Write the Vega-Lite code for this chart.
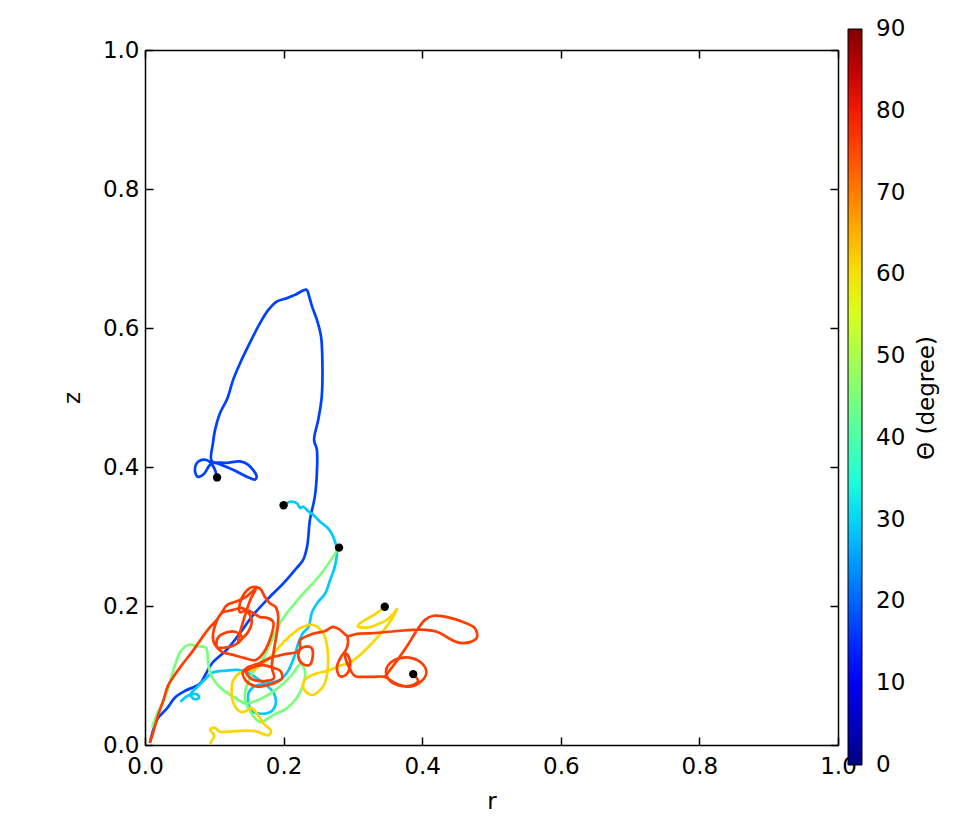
{
  "$schema": "https://vega.github.io/schema/vega-lite/v6.json",
  "width": 693,
  "height": 695,
  "autosize": {"type": "none"},
  "padding": {"left": 145, "top": 50, "right": 119, "bottom": 81},
  "background": "white",
  "config": {
    "view": {"stroke": null},
    "font": "DejaVu Sans",
    "axis": {
      "grid": false,
      "labelFlush": false,
      "domainColor": "black",
      "domainWidth": 1.5,
      "tickColor": "black",
      "tickWidth": 1.5,
      "tickSize": -8,
      "labelFont": "DejaVu Sans",
      "labelFontSize": 23,
      "labelColor": "black",
      "titleFont": "DejaVu Sans",
      "titleFontSize": 23,
      "titleFontWeight": "normal",
      "titleColor": "black"
    }
  },
  "datasets": {
    "traj": [
      {"s":"a","t":17,"r":0.104,"z":0.385},{"s":"a","t":17,"r":0.099,"z":0.400},{"s":"a","t":17,"r":0.089,"z":0.410},{"s":"a","t":17,"r":0.077,"z":0.408},{"s":"a","t":17,"r":0.072,"z":0.396},{"s":"a","t":17,"r":0.076,"z":0.386},{"s":"a","t":17,"r":0.085,"z":0.390},{"s":"a","t":17,"r":0.096,"z":0.405},{"s":"a","t":17,"r":0.118,"z":0.406},{"s":"a","t":17,"r":0.137,"z":0.408},{"s":"a","t":17,"r":0.149,"z":0.403},{"s":"a","t":17,"r":0.161,"z":0.387},{"s":"a","t":17,"r":0.159,"z":0.382},{"s":"a","t":17,"r":0.147,"z":0.386},{"s":"a","t":17,"r":0.127,"z":0.396},{"s":"a","t":17,"r":0.108,"z":0.404},{"s":"a","t":17,"r":0.096,"z":0.409},{"s":"a","t":17,"r":0.098,"z":0.434},{"s":"a","t":17,"r":0.101,"z":0.453},{"s":"a","t":17,"r":0.108,"z":0.477},{"s":"a","t":17,"r":0.119,"z":0.499},{"s":"a","t":17,"r":0.127,"z":0.525},{"s":"a","t":17,"r":0.137,"z":0.549},{"s":"a","t":17,"r":0.152,"z":0.580},{"s":"a","t":17,"r":0.166,"z":0.607},{"s":"a","t":17,"r":0.178,"z":0.626},{"s":"a","t":17,"r":0.190,"z":0.638},{"s":"a","t":17,"r":0.205,"z":0.643},{"s":"a","t":17,"r":0.217,"z":0.648},{"s":"a","t":17,"r":0.233,"z":0.655},{"s":"a","t":17,"r":0.237,"z":0.645},{"s":"a","t":17,"r":0.241,"z":0.631},{"s":"a","t":17,"r":0.248,"z":0.612},{"s":"a","t":17,"r":0.254,"z":0.588},{"s":"a","t":17,"r":0.256,"z":0.549},{"s":"a","t":17,"r":0.255,"z":0.501},{"s":"a","t":17,"r":0.250,"z":0.468},{"s":"a","t":17,"r":0.244,"z":0.439},{"s":"a","t":17,"r":0.248,"z":0.425},{"s":"a","t":17,"r":0.248,"z":0.391},{"s":"a","t":17,"r":0.245,"z":0.357},{"s":"a","t":17,"r":0.238,"z":0.324},{"s":"a","t":17,"r":0.234,"z":0.286},{"s":"a","t":17,"r":0.228,"z":0.266},{"s":"a","t":17,"r":0.219,"z":0.255},{"s":"a","t":17,"r":0.200,"z":0.233},{"s":"a","t":17,"r":0.180,"z":0.213},{"s":"a","t":17,"r":0.156,"z":0.187},{"s":"a","t":17,"r":0.137,"z":0.161},{"s":"a","t":17,"r":0.118,"z":0.137},{"s":"a","t":17,"r":0.097,"z":0.118},{"s":"a","t":17,"r":0.087,"z":0.101},{"s":"a","t":17,"r":0.079,"z":0.088},{"s":"a","t":17,"r":0.058,"z":0.078},{"s":"a","t":17,"r":0.043,"z":0.068},{"s":"a","t":17,"r":0.032,"z":0.053},{"s":"a","t":17,"r":0.019,"z":0.039},{"s":"a","t":17,"r":0.012,"z":0.022},{"s":"a","t":17,"r":0.007,"z":0.003},
      {"s":"b","t":29,"r":0.200,"z":0.345},{"s":"b","t":29,"r":0.209,"z":0.350},{"s":"b","t":29,"r":0.219,"z":0.348},{"s":"b","t":29,"r":0.224,"z":0.341},{"s":"b","t":29,"r":0.228,"z":0.343},{"s":"b","t":29,"r":0.236,"z":0.336},{"s":"b","t":29,"r":0.243,"z":0.331},{"s":"b","t":29,"r":0.253,"z":0.321},{"s":"b","t":29,"r":0.262,"z":0.314},{"s":"b","t":29,"r":0.269,"z":0.305},{"s":"b","t":29,"r":0.274,"z":0.293},{"s":"b","t":29,"r":0.277,"z":0.281},{"s":"b","t":29,"r":0.274,"z":0.257},{"s":"b","t":29,"r":0.267,"z":0.237},{"s":"b","t":29,"r":0.260,"z":0.218},{"s":"b","t":29,"r":0.250,"z":0.206},{"s":"b","t":29,"r":0.241,"z":0.191},{"s":"b","t":29,"r":0.236,"z":0.170},{"s":"b","t":29,"r":0.228,"z":0.161},{"s":"b","t":29,"r":0.221,"z":0.146},{"s":"b","t":29,"r":0.217,"z":0.132},{"s":"b","t":29,"r":0.212,"z":0.118},{"s":"b","t":29,"r":0.205,"z":0.104},{"s":"b","t":29,"r":0.195,"z":0.094},{"s":"b","t":29,"r":0.180,"z":0.089},{"s":"b","t":29,"r":0.159,"z":0.085},{"s":"b","t":29,"r":0.150,"z":0.076},{"s":"b","t":29,"r":0.149,"z":0.062},{"s":"b","t":29,"r":0.154,"z":0.049},{"s":"b","t":29,"r":0.169,"z":0.045},{"s":"b","t":29,"r":0.183,"z":0.049},{"s":"b","t":29,"r":0.189,"z":0.062},{"s":"b","t":29,"r":0.185,"z":0.076},{"s":"b","t":29,"r":0.175,"z":0.086},{"s":"b","t":29,"r":0.163,"z":0.095},{"s":"b","t":29,"r":0.149,"z":0.104},{"s":"b","t":29,"r":0.134,"z":0.108},{"s":"b","t":29,"r":0.117,"z":0.107},{"s":"b","t":29,"r":0.097,"z":0.104},{"s":"b","t":29,"r":0.087,"z":0.095},{"s":"b","t":29,"r":0.074,"z":0.082},{"s":"b","t":29,"r":0.066,"z":0.073},{"s":"b","t":29,"r":0.071,"z":0.066},{"s":"b","t":29,"r":0.078,"z":0.068},{"s":"b","t":29,"r":0.075,"z":0.073},{"s":"b","t":29,"r":0.062,"z":0.071},{"s":"b","t":29,"r":0.051,"z":0.062},
      {"s":"c","t":45,"r":0.280,"z":0.284},{"s":"c","t":45,"r":0.253,"z":0.245},{"s":"c","t":45,"r":0.224,"z":0.213},{"s":"c","t":45,"r":0.195,"z":0.176},{"s":"c","t":45,"r":0.180,"z":0.144},{"s":"c","t":45,"r":0.169,"z":0.122},{"s":"c","t":45,"r":0.156,"z":0.105},{"s":"c","t":45,"r":0.147,"z":0.086},{"s":"c","t":45,"r":0.144,"z":0.068},{"s":"c","t":45,"r":0.152,"z":0.048},{"s":"c","t":45,"r":0.166,"z":0.033},{"s":"c","t":45,"r":0.185,"z":0.043},{"s":"c","t":45,"r":0.205,"z":0.053},{"s":"c","t":45,"r":0.219,"z":0.068},{"s":"c","t":45,"r":0.228,"z":0.086},{"s":"c","t":45,"r":0.231,"z":0.105},{"s":"c","t":45,"r":0.225,"z":0.117},{"s":"c","t":45,"r":0.212,"z":0.101},{"s":"c","t":45,"r":0.188,"z":0.079},{"s":"c","t":45,"r":0.159,"z":0.063},{"s":"c","t":45,"r":0.144,"z":0.060},{"s":"c","t":45,"r":0.130,"z":0.068},{"s":"c","t":45,"r":0.113,"z":0.079},{"s":"c","t":45,"r":0.101,"z":0.091},{"s":"c","t":45,"r":0.094,"z":0.104},{"s":"c","t":45,"r":0.091,"z":0.119},{"s":"c","t":45,"r":0.088,"z":0.140},{"s":"c","t":45,"r":0.077,"z":0.142},{"s":"c","t":45,"r":0.062,"z":0.144},{"s":"c","t":45,"r":0.051,"z":0.134},{"s":"c","t":45,"r":0.042,"z":0.111},{"s":"c","t":45,"r":0.036,"z":0.091},{"s":"c","t":45,"r":0.029,"z":0.068},{"s":"c","t":45,"r":0.019,"z":0.048},{"s":"c","t":45,"r":0.010,"z":0.025},
      {"s":"d","t":61.5,"r":0.346,"z":0.199},{"s":"d","t":61.5,"r":0.336,"z":0.191},{"s":"d","t":61.5,"r":0.325,"z":0.184},{"s":"d","t":61.5,"r":0.310,"z":0.175},{"s":"d","t":61.5,"r":0.307,"z":0.171},{"s":"d","t":61.5,"r":0.320,"z":0.169},{"s":"d","t":61.5,"r":0.334,"z":0.173},{"s":"d","t":61.5,"r":0.349,"z":0.180},{"s":"d","t":61.5,"r":0.361,"z":0.192},{"s":"d","t":61.5,"r":0.364,"z":0.196},{"s":"d","t":61.5,"r":0.356,"z":0.181},{"s":"d","t":61.5,"r":0.345,"z":0.166},{"s":"d","t":61.5,"r":0.329,"z":0.148},{"s":"d","t":61.5,"r":0.313,"z":0.132},{"s":"d","t":61.5,"r":0.296,"z":0.119},{"s":"d","t":61.5,"r":0.281,"z":0.114},{"s":"d","t":61.5,"r":0.267,"z":0.108},{"s":"d","t":61.5,"r":0.242,"z":0.101},{"s":"d","t":61.5,"r":0.231,"z":0.094},{"s":"d","t":61.5,"r":0.228,"z":0.084},{"s":"d","t":61.5,"r":0.234,"z":0.075},{"s":"d","t":61.5,"r":0.242,"z":0.072},{"s":"d","t":61.5,"r":0.257,"z":0.084},{"s":"d","t":61.5,"r":0.263,"z":0.104},{"s":"d","t":61.5,"r":0.263,"z":0.141},{"s":"d","t":61.5,"r":0.257,"z":0.161},{"s":"d","t":61.5,"r":0.242,"z":0.173},{"s":"d","t":61.5,"r":0.228,"z":0.170},{"s":"d","t":61.5,"r":0.214,"z":0.161},{"s":"d","t":61.5,"r":0.199,"z":0.147},{"s":"d","t":61.5,"r":0.176,"z":0.122},{"s":"d","t":61.5,"r":0.156,"z":0.108},{"s":"d","t":61.5,"r":0.137,"z":0.104},{"s":"d","t":61.5,"r":0.127,"z":0.092},{"s":"d","t":61.5,"r":0.125,"z":0.078},{"s":"d","t":61.5,"r":0.127,"z":0.062},{"s":"d","t":61.5,"r":0.137,"z":0.048},{"s":"d","t":61.5,"r":0.144,"z":0.048},{"s":"d","t":61.5,"r":0.154,"z":0.053},{"s":"d","t":61.5,"r":0.163,"z":0.043},{"s":"d","t":61.5,"r":0.172,"z":0.030},{"s":"d","t":61.5,"r":0.182,"z":0.020},{"s":"d","t":61.5,"r":0.178,"z":0.014},{"s":"d","t":61.5,"r":0.159,"z":0.020},{"s":"d","t":61.5,"r":0.130,"z":0.020},{"s":"d","t":61.5,"r":0.108,"z":0.019},{"s":"d","t":61.5,"r":0.100,"z":0.025},{"s":"d","t":61.5,"r":0.094,"z":0.022},{"s":"d","t":61.5,"r":0.100,"z":0.013},{"s":"d","t":61.5,"r":0.095,"z":0.004},{"s":"d","t":61.5,"r":0.095,"z":0.0},
      {"s":"e1","t":76,"r":0.387,"z":0.102},{"s":"e1","t":76,"r":0.394,"z":0.092},{"s":"e1","t":76,"r":0.382,"z":0.085},{"s":"e1","t":76,"r":0.365,"z":0.086},{"s":"e1","t":76,"r":0.352,"z":0.094},{"s":"e1","t":76,"r":0.348,"z":0.108},{"s":"e1","t":76,"r":0.355,"z":0.119},{"s":"e1","t":76,"r":0.368,"z":0.125},{"s":"e1","t":76,"r":0.385,"z":0.125},{"s":"e1","t":76,"r":0.400,"z":0.117},{"s":"e1","t":76,"r":0.406,"z":0.104},{"s":"e1","t":76,"r":0.398,"z":0.091},{"s":"e1","t":76,"r":0.382,"z":0.084},{"s":"e1","t":76,"r":0.361,"z":0.089},{"s":"e1","t":76,"r":0.346,"z":0.098},{"s":"e1","t":76,"r":0.329,"z":0.098},{"s":"e1","t":76,"r":0.315,"z":0.098},{"s":"e1","t":76,"r":0.303,"z":0.099},{"s":"e1","t":76,"r":0.296,"z":0.109},{"s":"e1","t":76,"r":0.290,"z":0.122},{"s":"e1","t":76,"r":0.289,"z":0.132},{"s":"e1","t":76,"r":0.294,"z":0.127},{"s":"e1","t":76,"r":0.296,"z":0.114},{"s":"e1","t":76,"r":0.290,"z":0.101},{"s":"e1","t":76,"r":0.281,"z":0.099},{"s":"e1","t":76,"r":0.277,"z":0.112},{"s":"e1","t":76,"r":0.283,"z":0.127},{"s":"e1","t":76,"r":0.290,"z":0.137},{"s":"e1","t":76,"r":0.293,"z":0.147},{"s":"e1","t":76,"r":0.292,"z":0.157},
      {"s":"e2","t":76,"r":0.346,"z":0.098},{"s":"e2","t":76,"r":0.364,"z":0.122},{"s":"e2","t":76,"r":0.378,"z":0.142},{"s":"e2","t":76,"r":0.393,"z":0.166},{"s":"e2","t":76,"r":0.404,"z":0.180},{"s":"e2","t":76,"r":0.416,"z":0.186},{"s":"e2","t":76,"r":0.436,"z":0.184},{"s":"e2","t":76,"r":0.459,"z":0.177},{"s":"e2","t":76,"r":0.476,"z":0.168},{"s":"e2","t":76,"r":0.479,"z":0.155},{"s":"e2","t":76,"r":0.469,"z":0.148},{"s":"e2","t":76,"r":0.450,"z":0.148},{"s":"e2","t":76,"r":0.436,"z":0.155},{"s":"e2","t":76,"r":0.421,"z":0.163},{"s":"e2","t":76,"r":0.397,"z":0.166},{"s":"e2","t":76,"r":0.364,"z":0.164},{"s":"e2","t":76,"r":0.329,"z":0.161},{"s":"e2","t":76,"r":0.306,"z":0.160},{"s":"e2","t":76,"r":0.292,"z":0.157},{"s":"e2","t":76,"r":0.281,"z":0.166},{"s":"e2","t":76,"r":0.271,"z":0.170},{"s":"e2","t":76,"r":0.260,"z":0.164},{"s":"e2","t":76,"r":0.242,"z":0.160},{"s":"e2","t":76,"r":0.224,"z":0.151},{"s":"e2","t":76,"r":0.224,"z":0.140},{"s":"e2","t":76,"r":0.221,"z":0.128},{"s":"e2","t":76,"r":0.227,"z":0.117},{"s":"e2","t":76,"r":0.237,"z":0.115},{"s":"e2","t":76,"r":0.242,"z":0.127},{"s":"e2","t":76,"r":0.240,"z":0.140},{"s":"e2","t":76,"r":0.229,"z":0.141},{"s":"e2","t":76,"r":0.219,"z":0.134},{"s":"e2","t":76,"r":0.199,"z":0.130},{"s":"e2","t":76,"r":0.180,"z":0.125},{"s":"e2","t":76,"r":0.166,"z":0.118},{"s":"e2","t":76,"r":0.147,"z":0.111},{"s":"e2","t":76,"r":0.141,"z":0.104},{"s":"e2","t":76,"r":0.147,"z":0.091},{"s":"e2","t":76,"r":0.162,"z":0.084},{"s":"e2","t":76,"r":0.176,"z":0.086},{"s":"e2","t":76,"r":0.191,"z":0.091},{"s":"e2","t":76,"r":0.198,"z":0.096},{"s":"e2","t":76,"r":0.195,"z":0.107},{"s":"e2","t":76,"r":0.185,"z":0.111},{"s":"e2","t":76,"r":0.170,"z":0.115},{"s":"e2","t":76,"r":0.156,"z":0.112},{"s":"e2","t":76,"r":0.146,"z":0.105},{"s":"e2","t":76,"r":0.154,"z":0.095},{"s":"e2","t":76,"r":0.172,"z":0.092},{"s":"e2","t":76,"r":0.186,"z":0.096},{"s":"e2","t":76,"r":0.183,"z":0.112},{"s":"e2","t":76,"r":0.185,"z":0.130},{"s":"e2","t":76,"r":0.188,"z":0.148},{"s":"e2","t":76,"r":0.191,"z":0.166},{"s":"e2","t":76,"r":0.192,"z":0.187},{"s":"e2","t":76,"r":0.188,"z":0.199},{"s":"e2","t":76,"r":0.180,"z":0.204},{"s":"e2","t":76,"r":0.173,"z":0.213},{"s":"e2","t":76,"r":0.166,"z":0.225},{"s":"e2","t":76,"r":0.154,"z":0.227},{"s":"e2","t":76,"r":0.144,"z":0.219},{"s":"e2","t":76,"r":0.137,"z":0.204},{"s":"e2","t":76,"r":0.137,"z":0.191},{"s":"e2","t":76,"r":0.147,"z":0.194},{"s":"e2","t":76,"r":0.156,"z":0.190},{"s":"e2","t":76,"r":0.166,"z":0.184},{"s":"e2","t":76,"r":0.176,"z":0.183},{"s":"e2","t":76,"r":0.185,"z":0.177},{"s":"e2","t":76,"r":0.180,"z":0.151},{"s":"e2","t":76,"r":0.169,"z":0.130},{"s":"e2","t":76,"r":0.159,"z":0.122},{"s":"e2","t":76,"r":0.144,"z":0.125},{"s":"e2","t":76,"r":0.126,"z":0.130},{"s":"e2","t":76,"r":0.111,"z":0.134},{"s":"e2","t":76,"r":0.101,"z":0.144},{"s":"e2","t":76,"r":0.098,"z":0.154},{"s":"e2","t":76,"r":0.103,"z":0.177},{"s":"e2","t":76,"r":0.111,"z":0.190},{"s":"e2","t":76,"r":0.126,"z":0.194},{"s":"e2","t":76,"r":0.140,"z":0.197},{"s":"e2","t":76,"r":0.149,"z":0.191},{"s":"e2","t":76,"r":0.154,"z":0.177},{"s":"e2","t":76,"r":0.149,"z":0.163},{"s":"e2","t":76,"r":0.141,"z":0.154},{"s":"e2","t":76,"r":0.130,"z":0.144},{"s":"e2","t":76,"r":0.115,"z":0.140},{"s":"e2","t":76,"r":0.104,"z":0.141},{"s":"e2","t":76,"r":0.105,"z":0.154},{"s":"e2","t":76,"r":0.115,"z":0.161},{"s":"e2","t":76,"r":0.130,"z":0.163},{"s":"e2","t":76,"r":0.140,"z":0.155},{"s":"e2","t":76,"r":0.134,"z":0.147},{"s":"e2","t":76,"r":0.152,"z":0.209},{"s":"e2","t":76,"r":0.160,"z":0.225},{"s":"e2","t":76,"r":0.144,"z":0.212},{"s":"e2","t":76,"r":0.130,"z":0.206},{"s":"e2","t":76,"r":0.118,"z":0.201},{"s":"e2","t":76,"r":0.111,"z":0.191},{"s":"e2","t":76,"r":0.101,"z":0.177},{"s":"e2","t":76,"r":0.094,"z":0.170},{"s":"e2","t":76,"r":0.082,"z":0.154},{"s":"e2","t":76,"r":0.068,"z":0.134},{"s":"e2","t":76,"r":0.053,"z":0.115},{"s":"e2","t":76,"r":0.043,"z":0.101},{"s":"e2","t":76,"r":0.033,"z":0.085},{"s":"e2","t":76,"r":0.027,"z":0.066},{"s":"e2","t":76,"r":0.019,"z":0.043},{"s":"e2","t":76,"r":0.012,"z":0.019},{"s":"e2","t":76,"r":0.007,"z":0.003}
    ],
    "starts": [
      {"r":0.104,"z":0.385},{"r":0.200,"z":0.345},{"r":0.280,"z":0.284},{"r":0.346,"z":0.199},{"r":0.387,"z":0.102}
    ]
  },
  "layer": [
    {
      "data": {"name": "traj"},
      "mark": {"type": "line", "strokeWidth": 2.7, "clip": true, "interpolate": "catmull-rom"},
      "encoding": {
        "x": {"field": "r", "type": "quantitative",
              "scale": {"domain": [0, 1], "nice": false, "zero": false},
              "axis": {"orient": "bottom", "values": [0, 0.2, 0.4, 0.6, 0.8, 1.0], "format": ".1f", "labelPadding": 18, "title": "r", "titlePadding": 12}},
        "y": {"field": "z", "type": "quantitative",
              "scale": {"domain": [0, 1], "nice": false, "zero": false},
              "axis": {"orient": "left", "values": [0, 0.2, 0.4, 0.6, 0.8, 1.0], "format": ".1f", "labelPadding": 14, "title": "z", "titlePadding": 18}},
        "detail": {"field": "s", "type": "nominal"},
        "order": {"value": null},
        "color": {"field": "t", "type": "quantitative",
                  "scale": {"domain": [0, 90], "interpolate": "rgb",
                            "range": ["#000080","#0000c8","#0000ff","#0040ff","#0080ff","#00bfff","#15ffe2","#48ffaf","#7bff7b","#afff48","#e2ff15","#ffd200","#ff9700","#ff5c00","#ff2100","#c80000","#800000"]},
                  "legend": {"orient": "none", "legendX": 703, "legendY": -21, "direction": "vertical",
                             "gradientLength": 736, "gradientThickness": 14,
                             "gradientStrokeColor": "black", "gradientStrokeWidth": 1,
                             "values": [0, 10, 20, 30, 40, 50, 60, 70, 80, 90],
                             "labelFont": "DejaVu Sans", "labelFontSize": 23, "labelColor": "black", "labelOffset": 14,
                             "labelOverlap": false,
                             "encode": {"labels": {"update": {"baseline": {"value": "middle"}}}},
                             "title": null}}
      }
    },
    {
      "data": {"name": "starts"},
      "mark": {"type": "circle", "size": 70, "color": "black", "opacity": 1},
      "encoding": {
        "x": {"field": "r", "type": "quantitative",
              "axis": {"orient": "top", "values": [0, 0.2, 0.4, 0.6, 0.8, 1.0], "labels": false, "title": null}},
        "y": {"field": "z", "type": "quantitative",
              "axis": {"orient": "right", "values": [0, 0.2, 0.4, 0.6, 0.8, 1.0], "labels": false,
                       "title": "Θ (degree)", "titleAngle": 270, "titleFontSize": 23, "titlePadding": 100}}
      }
    }
  ],
  "resolve": {"axis": {"x": "independent", "y": "independent"}}
}
